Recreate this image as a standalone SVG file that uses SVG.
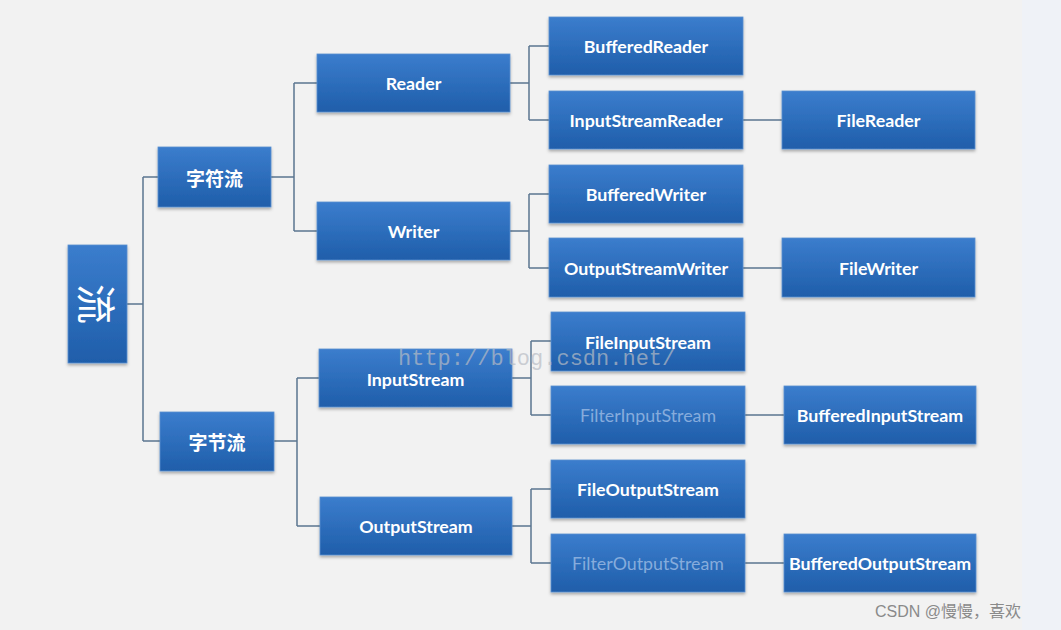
<svg xmlns="http://www.w3.org/2000/svg" width="1061" height="630" viewBox="0 0 1061 630">
<defs>
<linearGradient id="g" x1="0" y1="0" x2="0" y2="1">
<stop offset="0" stop-color="#3b7dcd"/>
<stop offset="1" stop-color="#1f5eaa"/>
</linearGradient>
<filter id="sh" x="-10%" y="-10%" width="120%" height="130%">
<feDropShadow dx="0" dy="2" stdDeviation="1.5" flood-color="#000" flood-opacity="0.3"/>
</filter>
<style>
.b{fill:url(#g);stroke:#5a8fd0;stroke-width:0.8;filter:url(#sh)}
.t{font-family:"Lato","Open Sans",sans-serif;font-weight:700;font-size:17.8px;fill:#ffffff;text-anchor:middle;dominant-baseline:central}
.f{fill:#86acdc;font-weight:400}
.c{font-family:"Noto Sans CJK SC",sans-serif;font-weight:700;font-size:19px;fill:#ffffff;text-anchor:middle;dominant-baseline:central}
.l{fill:none;stroke:#5b7590;stroke-width:1.5}
</style>
</defs>
<rect x="0" y="0" width="1061" height="630" fill="#f2f2f2"/>
<rect x="1022" y="0" width="39" height="630" fill="#eff2f7"/>
<g id="connectors" class="l">
<path d="M127,304H143M143,177V441M143,177H158M143,441H160"/>
<path d="M271,177H294M294,83V231M294,83H317M294,231H317"/>
<path d="M274,441H297M297,378V526M297,378H319M297,526H320"/>
<path d="M510,83H529M529,46V120M529,46H549M529,120H549"/>
<path d="M510,231H529M529,194V268M529,194H549M529,268H549"/>
<path d="M512,378H531M531,341V415M531,341H551M531,415H551"/>
<path d="M512,526H531M531,489V563M531,489H551M531,563H551"/>
<path d="M743,120H782M743,268H782M745,415H784M745,563H784"/>
</g>
<g id="liu"><rect class="b" x="68" y="245" width="59" height="118"/><text x="97.5" y="304" font-family="Noto Sans CJK SC,sans-serif" font-size="40" fill="#fff" text-anchor="middle" dominant-baseline="central" transform="rotate(90 97.5 304)">流</text></g>
<g id="zifuliu"><rect class="b" x="158" y="147" width="113" height="60"/><text class="c" x="214.5" y="177">字符流</text></g>
<g id="zijieliu"><rect class="b" x="160" y="412" width="114" height="59"/><text class="c" x="217" y="441">字节流</text></g>
<g id="reader"><rect class="b" x="317" y="54" width="193" height="58"/><text class="t" x="413.5" y="83">Reader</text></g>
<g id="writer"><rect class="b" x="317" y="202" width="193" height="58"/><text class="t" x="413.5" y="231">Writer</text></g>
<g id="inputstream"><rect class="b" x="319" y="349" width="193" height="58"/><text class="t" x="415.5" y="379">InputStream</text></g>
<g id="outputstream"><rect class="b" x="320" y="497" width="192" height="58"/><text class="t" x="416" y="526">OutputStream</text></g>
<g id="bufferedreader"><rect class="b" x="549" y="17" width="194" height="58"/><text class="t" x="646" y="46">BufferedReader</text></g>
<g id="inputstreamreader"><rect class="b" x="549" y="91" width="194" height="58"/><text class="t" x="646" y="120">InputStreamReader</text></g>
<g id="bufferedwriter"><rect class="b" x="549" y="165" width="194" height="58"/><text class="t" x="646" y="194">BufferedWriter</text></g>
<g id="outputstreamwriter"><rect class="b" x="549" y="238" width="194" height="59"/><text class="t" x="646" y="268">OutputStreamWriter</text></g>
<g id="fileinputstream"><rect class="b" x="551" y="312" width="194" height="59"/><text class="t" x="648" y="342">FileInputStream</text></g>
<g id="filterinputstream"><rect class="b" x="551" y="386" width="194" height="58"/><text class="t f" x="648" y="415">FilterInputStream</text></g>
<g id="fileoutputstream"><rect class="b" x="551" y="460" width="194" height="58"/><text class="t" x="648" y="489">FileOutputStream</text></g>
<g id="filteroutputstream"><rect class="b" x="551" y="534" width="194" height="58"/><text class="t f" x="648" y="563">FilterOutputStream</text></g>
<g id="filereader"><rect class="b" x="782" y="91" width="193" height="58"/><text class="t" x="878.5" y="120">FileReader</text></g>
<g id="filewriter"><rect class="b" x="782" y="238" width="193" height="59"/><text class="t" x="878.5" y="268">FileWriter</text></g>
<g id="bufferedinputstream"><rect class="b" x="784" y="386" width="192" height="58"/><text class="t" x="880" y="415">BufferedInputStream</text></g>
<g id="bufferedoutputstream"><rect class="b" x="784" y="534" width="192" height="58"/><text class="t" x="880" y="563">BufferedOutputStream</text></g>
<text x="398" y="365" font-family="Liberation Mono,monospace" font-size="22" fill="#b8bcc4" fill-opacity="0.7">http://blog.csdn.net/</text>
<text x="875" y="617" font-family="Liberation Sans,Noto Sans CJK SC,sans-serif" font-size="16" fill="#8a8a8a">CSDN @慢慢，喜欢</text>
</svg>
